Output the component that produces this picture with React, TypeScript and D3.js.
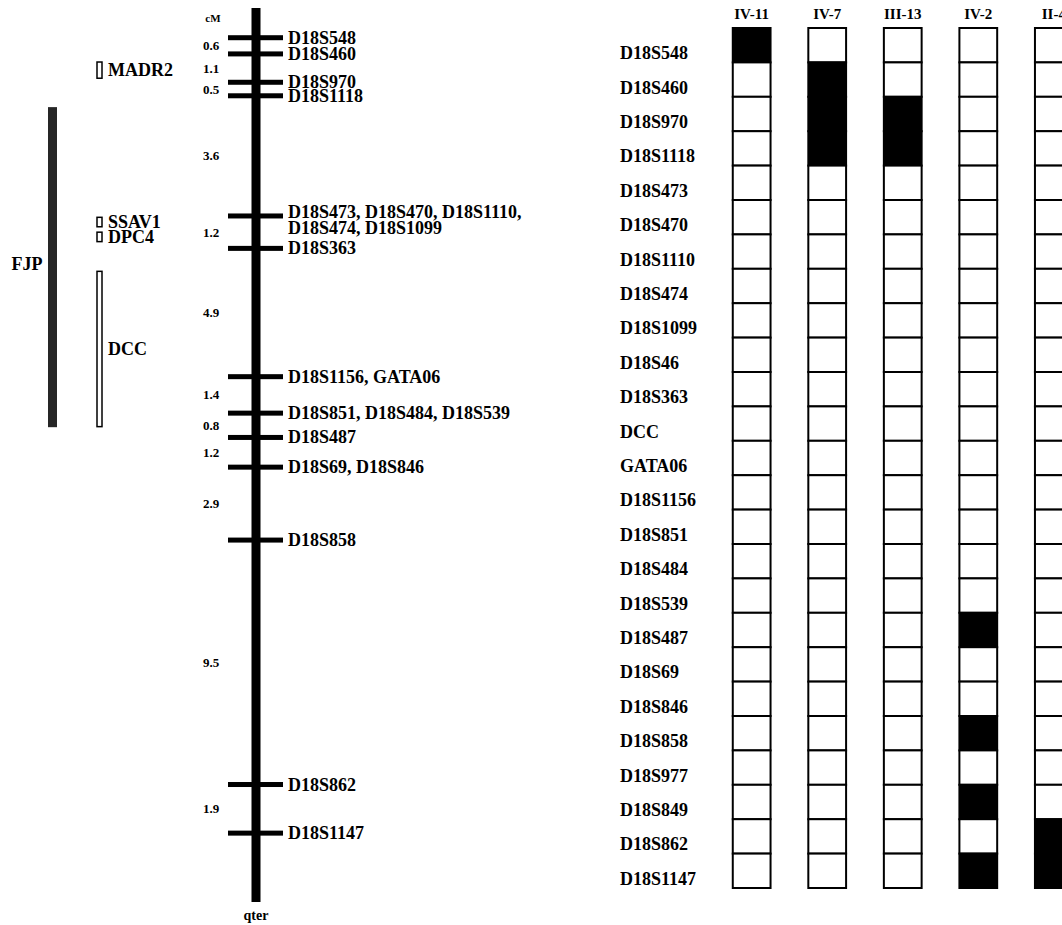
import * as d3 from "d3";

// genetic map of chromosome 18 (left panel)
const mapMarkers = [
  "D18S548",
  "D18S460",
  "D18S970",
  "D18S1118",
  "D18S473, D18S470, D18S1110,|D18S474, D18S1099",
  "D18S363",
  "D18S1156, GATA06",
  "D18S851, D18S484, D18S539",
  "D18S487",
  "D18S69, D18S846",
  "D18S858",
  "D18S862",
  "D18S1147",
];
// position along the drawn chromosome (map units, as drawn)
const mapPos = [1.1, 1.7, 2.75, 3.25, 7.7, 8.9, 13.65, 15.0, 15.9, 17.0, 19.7, 28.75, 30.55];
const chromLength = 33.1;
// distances between adjacent markers, cM
const intervals = ["0.6", "1.1", "0.5", "3.6", "1.2", "4.9", "1.4", "0.8", "1.2", "2.9", "9.5", "1.9"];

// candidate genes
const genes = ["MADR2", "SSAV1", "DPC4", "DCC"];
const geneStart = [2.0, 7.75, 8.3, 9.75];
const geneEnd = [2.6, 8.1, 8.65, 15.5];
// FJP critical region
const fjpStart = 3.67;
const fjpEnd = 15.52;

// haplotype grid (right panel)
const samples = ["IV-11", "IV-7", "III-13", "IV-2", "II-4"];
const gridMarkers = [
  "D18S548", "D18S460", "D18S970", "D18S1118", "D18S473", "D18S470", "D18S1110",
  "D18S474", "D18S1099", "D18S46", "D18S363", "DCC", "GATA06", "D18S1156",
  "D18S851", "D18S484", "D18S539", "D18S487", "D18S69", "D18S846", "D18S858",
  "D18S977", "D18S849", "D18S862", "D18S1147",
];
const filledIV11 = ["D18S548"];
const filledIV7 = ["D18S460", "D18S970", "D18S1118"];
const filledIII13 = ["D18S970", "D18S1118"];
const filledIV2 = ["D18S487", "D18S858", "D18S849", "D18S1147"];
const filledII4 = ["D18S862", "D18S1147"];
const filledBySample = [filledIV11, filledIV7, filledIII13, filledIV2, filledII4];

const W = 1062;
const H = 925;
const font = "'Liberation Serif', 'Times New Roman', serif";

export default function App() {
  const y = d3.scaleLinear().domain([0, chromLength]).range([8, 902]);
  const chromX = 256;

  const col = d3
    .scaleBand<string>()
    .domain(samples)
    .range([695, 1110.5])
    .paddingInner(0.5)
    .paddingOuter(0.5);
  const row = d3.scaleBand<string>().domain(gridMarkers).range([28, 888]);

  return (
    <svg
      width={W}
      height={H}
      style={{ position: "absolute", left: 0, top: 0, background: "#fff" }}
      fontFamily={font}
      fontWeight="bold"
    >
      {/* FJP region */}
      <rect x={48} y={y(fjpStart)} width={9} height={y(fjpEnd) - y(fjpStart)} fill="#262626" />
      <text x={27} y={(y(fjpStart) + y(fjpEnd)) / 2 - 3} fontSize={18} textAnchor="middle" dominantBaseline="central">
        FJP
      </text>

      {/* genes */}
      {genes.map((g, i) => {
        const y0 = y(geneStart[i]);
        const y1 = y(geneEnd[i]);
        return (
          <g key={g}>
            <rect x={97} y={y0} width={5} height={y1 - y0} fill="#fff" stroke="#000" strokeWidth={1.5} />
            <text x={108} y={(y0 + y1) / 2} fontSize={18} dominantBaseline="central">
              {g}
            </text>
          </g>
        );
      })}

      {/* chromosome */}
      <rect x={chromX - 4.5} y={y(0)} width={9} height={y(chromLength) - y(0)} fill="#000" />
      <text x={213} y={22} fontSize={11} textAnchor="middle">cM</text>
      <text x={chromX} y={920} fontSize={14} textAnchor="middle">qter</text>

      {mapMarkers.map((m, i) => {
        const lines = m.split("|");
        const ty = y(mapPos[i]);
        return (
          <g key={m}>
            <rect x={228} y={ty - 2.5} width={55} height={5} fill="#000" />
            {lines.map((l, j) => (
              <text
                key={l}
                x={288}
                y={lines.length > 1 ? ty - 3.5 + j * 15.5 : ty}
                fontSize={18}
                dominantBaseline="central"
              >
                {l}
              </text>
            ))}
          </g>
        );
      })}

      {intervals.map((d, i) => (
        <text
          key={i}
          x={203}
          y={(y(mapPos[i]) + y(mapPos[i + 1])) / 2}
          fontSize={13}
          dominantBaseline="central"
        >
          {d}
        </text>
      ))}

      {/* haplotype grid */}
      {gridMarkers.map((m) => (
        <text key={m} x={620} y={(row(m) ?? 0) + row.bandwidth() / 2 + 8} fontSize={18} dominantBaseline="central">
          {m}
        </text>
      ))}
      {samples.map((s, si) => (
        <g key={s}>
          <text
            x={(col(s) ?? 0) + col.bandwidth() / 2}
            y={19}
            fontSize={15}
            textAnchor="middle"
          >
            {s}
          </text>
          {gridMarkers.map((m) => (
            <rect
              key={m}
              x={col(s)}
              y={row(m)}
              width={col.bandwidth()}
              height={row.bandwidth()}
              fill={filledBySample[si].includes(m) ? "#000" : "#fff"}
              stroke="#000"
              strokeWidth={2}
            />
          ))}
        </g>
      ))}
    </svg>
  );
}
